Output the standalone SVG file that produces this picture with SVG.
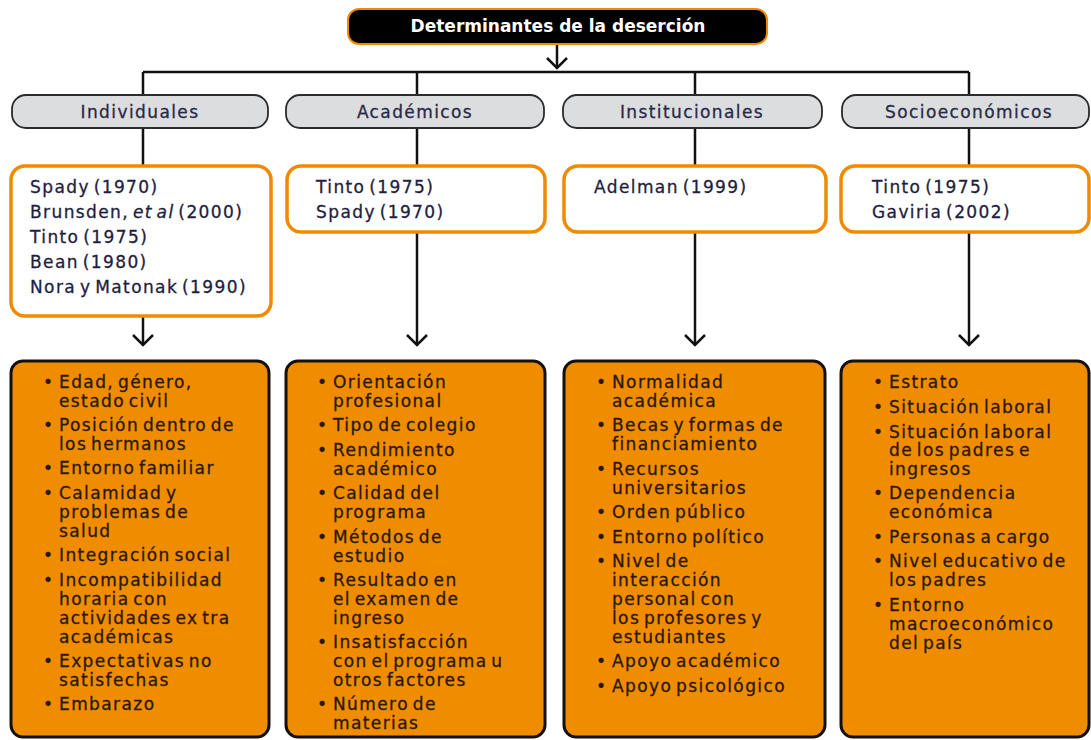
<svg xmlns="http://www.w3.org/2000/svg" width="1091" height="740" viewBox="0 0 1091 740">
<style>
  .title { font-family: "DejaVu Sans", "Open Sans", sans-serif; font-weight: bold; font-size: 17px; fill: #ffffff; text-anchor: middle; }
  .cat { fill: #dcdddf; stroke: #2b2b2b; stroke-width: 1.8; }
  .catt { font-family: "DejaVu Sans", "Open Sans", sans-serif; font-size: 17px; fill: #2a2a45; stroke: #2a2a45; stroke-width: 0.3px; text-anchor: middle; letter-spacing: 1.4px; word-spacing: -3px; }
  .auth { fill: #ffffff; stroke: #f08a00; stroke-width: 3.5; }
  .autht { font-family: "DejaVu Sans", "Open Sans", sans-serif; font-size: 17px; fill: #1e1e40; stroke: #1e1e40; stroke-width: 0.3px; letter-spacing: 1.4px; word-spacing: -3px; }
  .box { fill: #f08c00; stroke: #111111; stroke-width: 3; }
  .boxt { font-family: "DejaVu Sans", "Open Sans", sans-serif; font-size: 17px; fill: #2a1800; stroke: #2a1800; stroke-width: 0.3px; letter-spacing: 1.4px; word-spacing: -3px; }
  .conn { fill: none; stroke: #111111; stroke-width: 2.5; }
</style>
<defs>
  <marker id="arr" viewBox="0 0 24 24" refX="12" refY="12" markerWidth="24" markerHeight="24" markerUnits="userSpaceOnUse" orient="auto">
    <path d="M2,2 L12,12 L2,22" fill="none" stroke="#111111" stroke-width="2.5"/>
  </marker>
</defs>

<g id="connectors">
  <path class="conn" d="M557,45 V68" marker-end="url(#arr)"/>
  <path class="conn" d="M143,72 H969"/>
  <path class="conn" d="M143,72 V95 M417,72 V95 M695,72 V95 M969,72 V95"/>
  <path class="conn" d="M143,128 V165 M417,128 V165 M695,128 V165 M969,128 V165"/>
  <path class="conn" d="M143,316 V345" marker-end="url(#arr)"/>
  <path class="conn" d="M417,232 V345" marker-end="url(#arr)"/>
  <path class="conn" d="M695,232 V345" marker-end="url(#arr)"/>
  <path class="conn" d="M969,232 V345" marker-end="url(#arr)"/>
</g>

<g id="title">
  <rect x="348" y="9" width="419" height="35" rx="11" fill="#000000" stroke="#f08a00" stroke-width="2"/>
  <text class="title" x="558" y="32">Determinantes de la deserción</text>
</g>

<g id="cat-individuales">
  <rect class="cat" x="12" y="95" width="256" height="33" rx="14"/>
  <text class="catt" x="140" y="118">Individuales</text>
</g>
<g id="cat-academicos">
  <rect class="cat" x="286" y="95" width="258" height="33" rx="14"/>
  <text class="catt" x="415" y="118">Académicos</text>
</g>
<g id="cat-institucionales">
  <rect class="cat" x="563" y="95" width="259" height="33" rx="14"/>
  <text class="catt" x="692" y="118">Institucionales</text>
</g>
<g id="cat-socioeconomicos">
  <rect class="cat" x="842" y="95" width="247" height="33" rx="14"/>
  <text class="catt" x="969" y="118">Socioeconómicos</text>
</g>

<g id="auth-individuales">
  <rect class="auth" x="11" y="166" width="260" height="150" rx="14"/>
  <text class="autht" x="30" y="193">Spady (1970)</text>
  <text class="autht" x="30" y="218">Brunsden, <tspan font-style="italic">et al</tspan> (2000)</text>
  <text class="autht" x="30" y="243">Tinto (1975)</text>
  <text class="autht" x="30" y="268">Bean (1980)</text>
  <text class="autht" x="30" y="293">Nora y Matonak (1990)</text>
</g>
<g id="auth-academicos">
  <rect class="auth" x="287" y="166" width="258" height="66" rx="14"/>
  <text class="autht" x="316" y="193">Tinto (1975)</text>
  <text class="autht" x="316" y="218">Spady (1970)</text>
</g>
<g id="auth-institucionales">
  <rect class="auth" x="564" y="166" width="262" height="66" rx="14"/>
  <text class="autht" x="594" y="193">Adelman (1999)</text>
</g>
<g id="auth-socioeconomicos">
  <rect class="auth" x="841" y="166" width="248" height="66" rx="14"/>
  <text class="autht" x="872" y="193">Tinto (1975)</text>
  <text class="autht" x="872" y="218">Gaviria (2002)</text>
</g>

<g id="box-individuales">
  <rect class="box" x="11" y="361" width="258" height="376" rx="12"/>
  <g class="boxt">
    <text x="43" y="388">•</text><text x="59" y="388">Edad, género,</text>
    <text x="59" y="407">estado civil</text>
    <text x="43" y="431">•</text><text x="59" y="431">Posición dentro de</text>
    <text x="59" y="450">los hermanos</text>
    <text x="43" y="474">•</text><text x="59" y="474">Entorno familiar</text>
    <text x="43" y="499">•</text><text x="59" y="499">Calamidad y</text>
    <text x="59" y="518">problemas de</text>
    <text x="59" y="537">salud</text>
    <text x="43" y="561">•</text><text x="59" y="561">Integración social</text>
    <text x="43" y="586">•</text><text x="59" y="586">Incompatibilidad</text>
    <text x="59" y="605">horaria con</text>
    <text x="59" y="624">actividades ex tra</text>
    <text x="59" y="643">académicas</text>
    <text x="43" y="667">•</text><text x="59" y="667">Expectativas no</text>
    <text x="59" y="686">satisfechas</text>
    <text x="43" y="710">•</text><text x="59" y="710">Embarazo</text>
  </g>
</g>

<g id="box-academicos">
  <rect class="box" x="286" y="361" width="259" height="376" rx="12"/>
  <g class="boxt">
    <text x="317" y="388">•</text><text x="333" y="388">Orientación</text>
    <text x="333" y="407">profesional</text>
    <text x="317" y="431">•</text><text x="333" y="431">Tipo de colegio</text>
    <text x="317" y="456">•</text><text x="333" y="456">Rendimiento</text>
    <text x="333" y="475">académico</text>
    <text x="317" y="499">•</text><text x="333" y="499">Calidad del</text>
    <text x="333" y="518">programa</text>
    <text x="317" y="543">•</text><text x="333" y="543">Métodos de</text>
    <text x="333" y="562">estudio</text>
    <text x="317" y="586">•</text><text x="333" y="586">Resultado en</text>
    <text x="333" y="605">el examen de</text>
    <text x="333" y="624">ingreso</text>
    <text x="317" y="648">•</text><text x="333" y="648">Insatisfacción</text>
    <text x="333" y="667">con el programa u</text>
    <text x="333" y="686">otros factores</text>
    <text x="317" y="710">•</text><text x="333" y="710">Número de</text>
    <text x="333" y="729">materias</text>
  </g>
</g>

<g id="box-institucionales">
  <rect class="box" x="564" y="361" width="261" height="376" rx="12"/>
  <g class="boxt">
    <text x="596" y="388">•</text><text x="612" y="388">Normalidad</text>
    <text x="612" y="407">académica</text>
    <text x="596" y="431">•</text><text x="612" y="431">Becas y formas de</text>
    <text x="612" y="450">financiamiento</text>
    <text x="596" y="475">•</text><text x="612" y="475">Recursos</text>
    <text x="612" y="494">universitarios</text>
    <text x="596" y="518">•</text><text x="612" y="518">Orden público</text>
    <text x="596" y="543">•</text><text x="612" y="543">Entorno político</text>
    <text x="596" y="567">•</text><text x="612" y="567">Nivel de</text>
    <text x="612" y="586">interacción</text>
    <text x="612" y="605">personal con</text>
    <text x="612" y="624">los profesores y</text>
    <text x="612" y="643">estudiantes</text>
    <text x="596" y="667">•</text><text x="612" y="667">Apoyo académico</text>
    <text x="596" y="692">•</text><text x="612" y="692">Apoyo psicológico</text>
  </g>
</g>

<g id="box-socioeconomicos">
  <rect class="box" x="841" y="361" width="248" height="376" rx="12"/>
  <g class="boxt">
    <text x="873" y="388">•</text><text x="889" y="388">Estrato</text>
    <text x="873" y="413">•</text><text x="889" y="413">Situación laboral</text>
    <text x="873" y="438">•</text><text x="889" y="438">Situación laboral</text>
    <text x="889" y="456">de los padres e</text>
    <text x="889" y="475">ingresos</text>
    <text x="873" y="499">•</text><text x="889" y="499">Dependencia</text>
    <text x="889" y="518">económica</text>
    <text x="873" y="543">•</text><text x="889" y="543">Personas a cargo</text>
    <text x="873" y="567">•</text><text x="889" y="567">Nivel educativo de</text>
    <text x="889" y="586">los padres</text>
    <text x="873" y="611">•</text><text x="889" y="611">Entorno</text>
    <text x="889" y="630">macroeconómico</text>
    <text x="889" y="649">del país</text>
  </g>
</g>
</svg>
